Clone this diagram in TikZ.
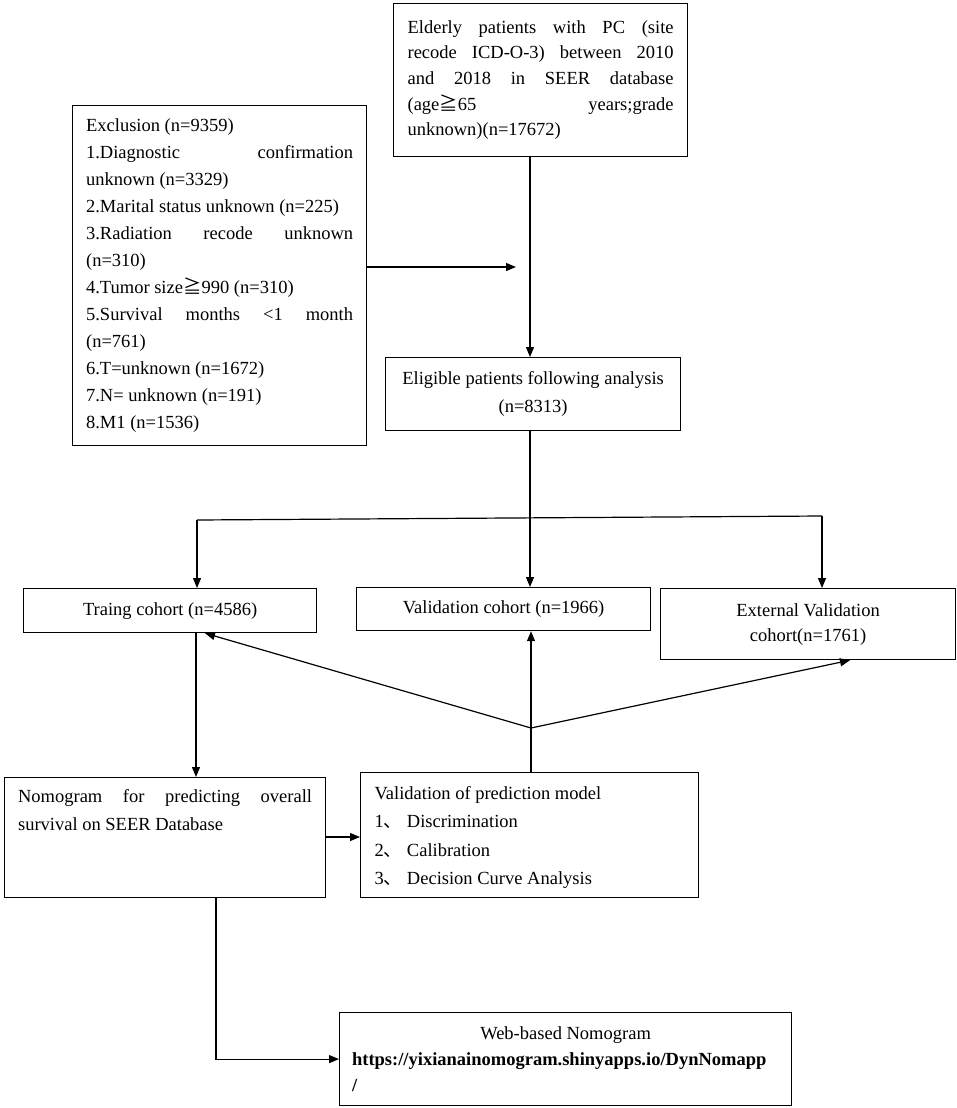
\documentclass[tikz,border=0pt]{standalone}
\usepackage{fontspec}
\setmainfont{Liberation Serif}
\newfontfamily\cjk{Noto Sans CJK SC}
\usetikzlibrary{arrows.meta}
\begin{document}
\begin{tikzpicture}[x=1pt,y=-1pt,
  box/.style={draw, line width=1.2pt, inner sep=0pt, anchor=north west},
  arr/.style={line width=1.2pt, -{Triangle[length=10pt,width=8pt]}},
  ln/.style={line width=1.2pt},
  every node/.style={font=\fontsize{18.5}{26}\selectfont}]
\useasboundingbox (0,0) rectangle (957,1108);

% boxes
\node[box, minimum width=294pt, minimum height=153pt] (top) at (393,3)
 {\fontsize{18.5}{25.7}\selectfont\parbox{266pt}{%
  \makebox[\linewidth][s]{Elderly patients with PC (site}\\
  \makebox[\linewidth][s]{recode ICD-O-3) between 2010}\\
  \makebox[\linewidth][s]{and 2018 in SEER database}\\
  \makebox[\linewidth][s]{(age{\cjk ≧}65 years;grade}\\
  unknown)(n=17672)}};

\node[box, minimum width=294pt, minimum height=340pt] (excl) at (72,105)
 {\fontsize{18.5}{27}\selectfont\parbox{267pt}{%
  Exclusion (n=9359)\\
  \makebox[\linewidth][s]{1.Diagnostic confirmation}\\
  unknown (n=3329)\\
  2.Marital status unknown (n=225)\\
  \makebox[\linewidth][s]{3.Radiation recode unknown}\\
  (n=310)\\
  4.Tumor size{\cjk ≧}990 (n=310)\\
  \makebox[\linewidth][s]{5.Survival months <1 month}\\
  (n=761)\\
  6.T=unknown (n=1672)\\
  7.N= unknown (n=191)\\
  8.M1 (n=1536)}};

\node[box, minimum width=295pt, minimum height=73pt] (elig) at (385,357)
 {\fontsize{18.5}{28}\selectfont\parbox{285pt}{\centering
  Eligible patients following analysis\\(n=8313)}};

\node[box, minimum width=293pt, minimum height=44pt] (train) at (23,588)
 {Traing cohort (n=4586)};
\node[box, minimum width=294pt, minimum height=43pt] (val) at (356,587)
 {Validation cohort (n=1966)};
\node[box, minimum width=295pt, minimum height=71pt] (ext) at (660,588)
 {\fontsize{18.5}{25}\selectfont\parbox{285pt}{\centering
  External Validation\\cohort(n=1761)}};

\node[box, minimum width=321pt, minimum height=120pt] (nomo) at (4,777)
 {\fontsize{18.5}{28}\selectfont\parbox[c][97pt][t]{294pt}{%
  \makebox[\linewidth][s]{Nomogram for predicting overall}\\
  survival on SEER Database}};

\node[box, minimum width=338pt, minimum height=125pt] (vp) at (360,772)
 {\fontsize{18.5}{28.3}\selectfont\parbox[c][97pt][t]{310pt}{\raggedright
  Validation of prediction model\\
  1{\cjk 、} Discrimination\\
  2{\cjk 、} Calibration\\
  3{\cjk 、} Decision Curve Analysis}};

\node[box, minimum width=452pt, minimum height=93pt] (web) at (339,1012)
 {\fontsize{18.5}{26}\selectfont\parbox{427pt}{\centering
  Web-based Nomogram\par\raggedright
  \mbox{\textbf{https://yixianainomogram.shinyapps.io/DynNomapp}}\\
  \textbf{/}}};

% helper coordinates
\coordinate (xm) at (530,0);
\coordinate (exclEnd) at (516,267);
\coordinate (bl) at (197,520);
\coordinate (br) at (822,516);
\coordinate (xt) at (196,0);
\coordinate (J) at (531,728);
\coordinate (xtb) at (205,0);
\coordinate (xe) at (850,0);
\coordinate (ym) at (0,837);
\coordinate (xw) at (216,0);

% connectors
\draw[arr] (top.south -| xm) -- (elig.north -| xm);
\draw[arr] (excl.east |- exclEnd) -- (exclEnd);
\draw[arr] (elig.south -| xm) -- (val.north -| xm);
\draw[ln] (bl) -- (br);
\draw[arr] (bl) -- (bl |- train.north);
\draw[arr] (br) -- (br |- ext.north);
\draw[arr] (train.south -| xt) -- (nomo.north -| xt);
\draw[arr] (vp.north -| J) -- (val.south -| J);
\draw[arr] (J) -- (train.south -| xtb);
\draw[arr] (J) -- (ext.south -| xe);
\draw[arr] (nomo.east |- ym) -- (vp.west |- ym);
\draw[arr] (nomo.south -| xw) |- (web.west);
\end{tikzpicture}
\end{document}
